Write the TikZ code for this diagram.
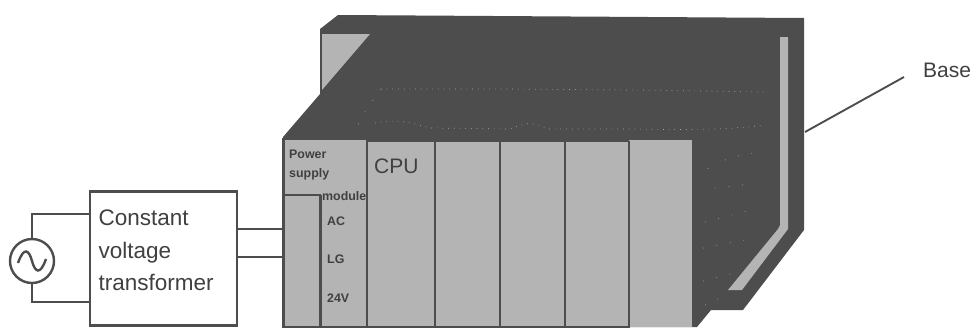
\documentclass[tikz,border=0pt]{standalone}
\usepackage{fontspec}
\setmainfont{Liberation Sans}
\definecolor{darkbody}{HTML}{4D4D4D}
\definecolor{halftone}{HTML}{B4B4B4}
\definecolor{inktext}{HTML}{404040}
\definecolor{sparkc}{HTML}{A8A8A8}
\tikzset{
  wire/.style={draw=darkbody,line width=1.9pt},
  panel/.style={fill=halftone,draw=darkbody,line width=2.4pt},
  biglabel/.style={anchor=base west,inner sep=0pt,text=inktext,font=\fontsize{22.5}{24}\selectfont},
  smalllabel/.style={anchor=base west,inner sep=0pt,text=inktext,font=\fontsize{12.4}{13}\selectfont\bfseries},
  spark/.style={draw=sparkc,line width=.7pt,dash pattern=on .7pt off 5pt},
  sparse/.style={draw=sparkc,line width=.7pt,dash pattern=on .7pt off 13pt}
}
\begin{document}
\begin{tikzpicture}[x=1pt,y=-1pt]
\useasboundingbox (0,0) rectangle (973,327);
% base body
\fill[darkbody] (338,15) -- (804,18) -- (804,230) -- (743,310) -- (711,310) -- (697,327) -- (283,327) -- (283,137) -- (320,94) -- (320,29) -- cycle;
\fill[halftone] (322,34) -- (370,34) -- (322,90) -- cycle;
\fill[halftone] (780,37) -- (788,37) -- (788,229) -- (742,290) -- (728,290) -- (778,229) -- (780,225) -- cycle;
% dotted ridges
\draw[spark] (381,89) -- (500,89) -- (640,90) -- (765,92);
\draw[sparse] (381,89) -- (366,110) -- (358,125);
\draw[spark] (375,123) .. controls (400,118) and (415,124) .. (430,128) -- (510,129) .. controls (525,124) and (530,120) .. (548,129) -- (640,129) .. controls (680,130) and (730,130) .. (765,125);
\draw[sparse] (725,160) .. controls (740,153) and (755,155) .. (762,150);
\draw[sparse] (708,168) -- (703,180);
\draw[sparse] (715,188) -- (752,184);
\draw[sparse] (705,222) -- (750,210);
\draw[sparse] (703,248) -- (755,238);
\draw[sparse] (703,281) -- (735,273);
\draw[sparse] (705,305) -- (720,298);
% front panels
\path[panel] (283.5,139) rectangle (367,327.5);
\path[panel] (367,141) rectangle (435,327.5);
\path[panel] (435,141) rectangle (500,327.5);
\path[panel] (500,141) rectangle (565,327.5);
\path[panel] (565,141) rectangle (629,327.5);
\fill[halftone] (629,140) rectangle (692,327);
\draw[darkbody,line width=2.4pt] (629,141) -- (629,327);
\draw[darkbody,line width=1.4pt] (284,195) -- (321,195);
\draw[darkbody,line width=3pt] (320,195) -- (320,327);
% power module labels
\node[smalllabel] (pw) at (289,158) {Power};
\node[smalllabel] (sp) at (289,177) {supply};
\node[smalllabel] (md) at (322,200) {module};
\node[smalllabel] (ac) at (327,225) {AC};
\node[smalllabel] (lg) at (327,263) {LG};
\node[smalllabel] (v24) at (327,302) {24V};
\node[anchor=base west,inner sep=0pt,text=inktext,font=\fontsize{21}{22}\selectfont] (cpu) at (374,173) {CPU};
% transformer
\node[draw=darkbody,line width=2.4pt,minimum width=147pt,minimum height=134pt,inner sep=0pt,fill=white] (trf) at (163.5,258.5) {};
\node[biglabel] (t1) at (98.5,225) {Constant};
\node[biglabel] (t2) at (98.5,258) {voltage};
\node[biglabel] (t3) at (98.5,290) {transformer};
% source
\node[circle,draw=darkbody,line width=2.4pt,minimum size=44pt,inner sep=0pt] (src) at (32,261) {};
\draw[darkbody,line width=2.4pt] (18,263) .. controls (24,246) and (29,250) .. (32,261) .. controls (35,272) and (40,276) .. (46,259);
\draw[wire] (src.north) |- (trf.west |- 0,214);
\draw[wire] (src.south) |- (trf.west |- 0,302);
% transformer to power supply
\coordinate (pa) at (283,229);
\coordinate (pb) at (283,257);
\draw[wire] (trf.east |- pa) -- (pa);
\draw[wire] (trf.east |- pb) -- (pb);
% base leader
\coordinate (bs) at (805,132);
\node[anchor=base west,inner sep=0pt,text=inktext,font=\fontsize{21}{22}\selectfont] (base) at (923,77) {Base};
\coordinate (ld) at (904,77);
\draw[darkbody,line width=1.9pt] (bs) -- (ld);
\end{tikzpicture}
\end{document}
